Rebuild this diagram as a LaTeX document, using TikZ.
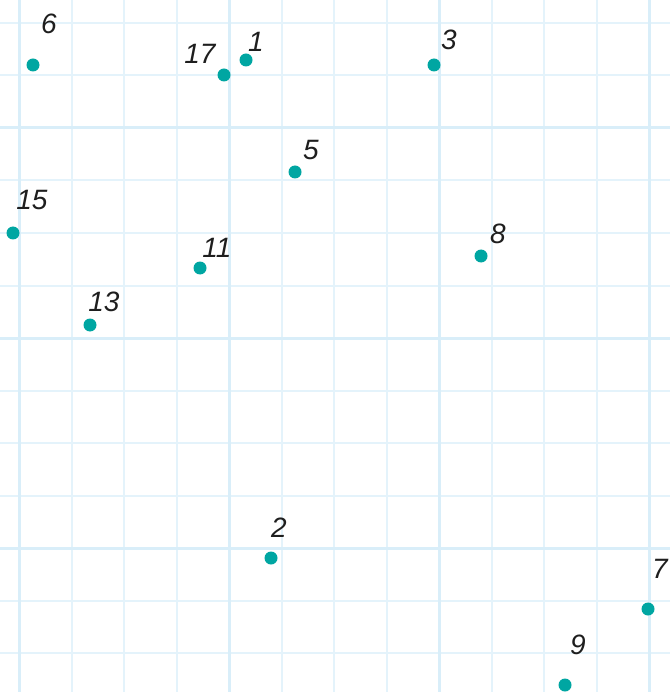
\documentclass[tikz,border=0pt]{standalone}
\usepackage{fontspec}
\setmainfont{Liberation Sans}
\definecolor{gridminor}{HTML}{E4F3FB}
\definecolor{gridmajor}{HTML}{D9EEF9}
\definecolor{dotc}{HTML}{00A6A2}
\definecolor{labc}{HTML}{1E1E1E}
\begin{document}
\begin{tikzpicture}[x=1pt,y=-1pt,
  minorline/.style={gridminor,line width=2pt},
  majorline/.style={gridmajor,line width=3pt},
  dotnode/.style={circle,fill=dotc,inner sep=0pt,minimum size=13pt},
  numlab/.style={text=labc,font=\fontsize{28}{28}\selectfont\itshape,inner sep=0pt,anchor=center}]
\useasboundingbox (0,0) rectangle (670,692);
\fill[white] (0,0) rectangle (670,692);
\foreach \i in {0,...,12}{
  \pgfmathsetmacro{\gx}{19+52.5*\i}
  \pgfmathsetmacro{\gy}{23+52.5*\i}
  \draw[minorline] (\gx,0) -- (\gx,692);
  \draw[minorline] (0,\gy) -- (670,\gy);
}
\foreach \i in {0,4,8,12}{
  \pgfmathsetmacro{\gx}{19+52.5*\i}
  \draw[majorline] (\gx,0) -- (\gx,692);
}
\foreach \i in {2,6,10}{
  \pgfmathsetmacro{\gy}{23+52.5*\i}
  \draw[majorline] (0,\gy) -- (670,\gy);
}
% dots
\node[dotnode] (p6) at (33,65) {};
\node[dotnode] (p17) at (224,75) {};
\node[dotnode] (p1) at (246,60) {};
\node[dotnode] (p3) at (434,65) {};
\node[dotnode] (p5) at (295,172) {};
\node[dotnode] (p15) at (13,233) {};
\node[dotnode] (p11) at (200,268) {};
\node[dotnode] (p8) at (481,256) {};
\node[dotnode] (p13) at (90,325) {};
\node[dotnode] (p2) at (271,558) {};
\node[dotnode] (p7) at (648,609) {};
\node[dotnode] (p9) at (565,685) {};
% labels
\node[numlab] (l6) at (49,24) {6};
\node[numlab] (l17) at (200,54) {17};
\node[numlab] (l1) at (256,42) {1};
\node[numlab] (l3) at (449,40) {3};
\node[numlab] (l5) at (311,150) {5};
\node[numlab] (l15) at (32,200) {15};
\node[numlab] (l11) at (217,248) {11};
\node[numlab] (l8) at (498,234) {8};
\node[numlab] (l13) at (104,302) {13};
\node[numlab] (l2) at (279,528) {2};
\node[numlab] (l7) at (660,569) {7};
\node[numlab] (l9) at (578,645) {9};
\end{tikzpicture}
\end{document}
